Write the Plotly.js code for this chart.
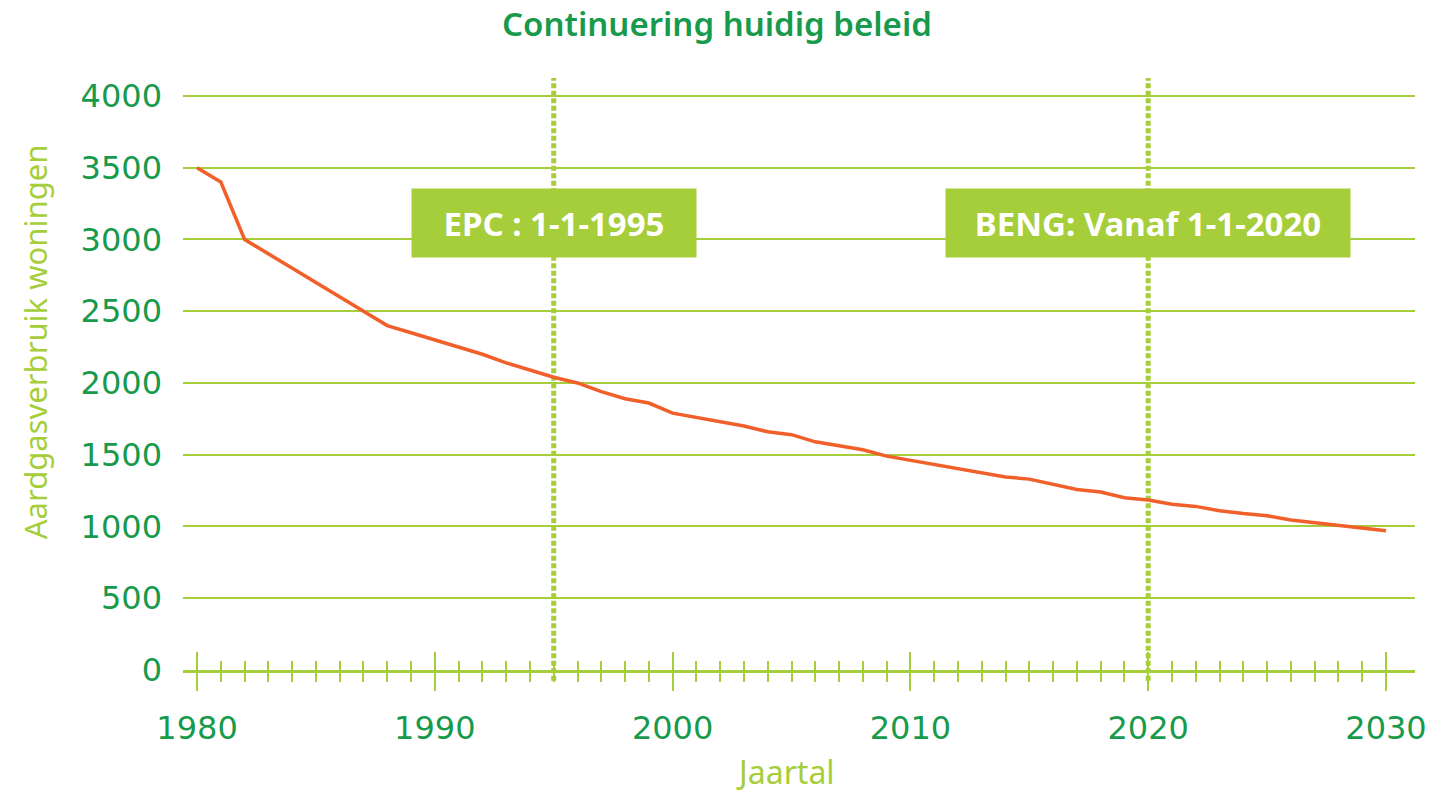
<!DOCTYPE html>
<html>
<head>
<meta charset="utf-8">
<script src="https://cdn.plot.ly/plotly-3.0.1.min.js"></script>
<style>html,body{margin:0;padding:0;background:#fff;}#chart{width:1434px;height:799px;}</style>
</head>
<body>
<div id="chart"></div>
<script>
const years = [1980,1981,1982,1983,1984,1985,1986,1987,1988,1989,1990,1991,1992,1993,1994,1995,1996,1997,1998,1999,2000,2001,2002,2003,2004,2005,2006,2007,2008,2009,2010,2011,2012,2013,2014,2015,2016,2017,2018,2019,2020,2021,2022,2023,2024,2025,2026,2027,2028,2029,2030];
const gasUse = [3500,3400,3000,2900,2800,2700,2600,2500,2400,2350,2300,2250,2200,2140,2090,2040,2000,1940,1890,1860,1790,1760,1725,1700,1660,1640,1590,1560,1535,1490,1460,1430,1400,1370,1345,1330,1295,1258,1240,1200,1185,1155,1140,1110,1090,1075,1045,1025,1005,990,970];
const xTickVals = [1980,1990,2000,2010,2020,2030];
const yTickVals = [0,500,1000,1500,2000,2500,3000,3500,4000];
const policyYears = [1995,2020];
const policyLabels = ['EPC : 1-1-1995','BENG: Vanaf 1-1-2020'];
const chartTitle = 'Continuering huidig beleid';
const xTitle = 'Jaartal';
const yTitle = 'Aardgasverbruik woningen';

const LIGHT = '#a6cd3a';
const DARK = '#189a4c';
const ORANGE = '#f1602a';
const xRange = [1979.41, 2031.22];

const traces = [
  {x: years, y: gasUse, type: 'scatter', mode: 'lines', line: {color: ORANGE, width: 3.5}, hoverinfo: 'x+y', showlegend: false},
  {x: years, y: gasUse, xaxis: 'x2', type: 'scatter', mode: 'lines', line: {width: 0}, opacity: 0, hoverinfo: 'skip', showlegend: false}
];

const tickFont = {family: 'DejaVu Sans', size: 32, color: DARK};

const layout = {
  width: 1434, height: 799,
  margin: {l: 183, r: 19, t: 78, b: 129},
  paper_bgcolor: '#fff', plot_bgcolor: '#fff',
  title: {text: chartTitle, font: {family: 'Noto Sans', size: 33, color: DARK, weight: 600}, xref: 'container', x: 0.5, xanchor: 'center', yref: 'container', y: 0.97, yanchor: 'middle'},
  xaxis: {
    range: xRange, tickvals: xTickVals, ticks: 'outside', ticklen: 18, tickwidth: 2, tickcolor: LIGHT,
    minor: {tickmode: 'array', tickvals: years, ticks: 'outside', ticklen: 9, tickwidth: 2, tickcolor: LIGHT, showgrid: false},
    showgrid: false, zeroline: false, showline: true, linecolor: LIGHT, linewidth: 2.5,
    tickfont: tickFont, ticklabelstandoff: 10
  },
  xaxis2: {
    range: xRange, tickvals: xTickVals, overlaying: 'x', anchor: 'y', side: 'bottom',
    ticks: 'inside', ticklen: 18, tickwidth: 2, tickcolor: LIGHT,
    minor: {tickmode: 'array', tickvals: years, ticks: 'inside', ticklen: 9, tickwidth: 2, tickcolor: LIGHT, showgrid: false},
    showticklabels: false, showgrid: false, zeroline: false, showline: false
  },
  yaxis: {
    range: [0, 4125], tickvals: yTickVals, showgrid: true, gridcolor: LIGHT, gridwidth: 2,
    zeroline: false, showline: false, ticks: '', tickfont: tickFont, ticklabelstandoff: 20
  },
  shapes: policyYears.map(yr => ({
    type: 'line', xref: 'x', yref: 'paper', x0: yr, x1: yr, y0: -0.018, y1: 1,
    line: {color: LIGHT, width: 5, dash: '5px,2.5px'}, layer: 'below'
  })),
  annotations: policyYears.map((yr, i) => ({
    x: yr, y: 3115, xref: 'x', yref: 'y', xanchor: 'center', yanchor: 'middle',
    text: '<b>' + policyLabels[i] + '</b>', showarrow: false,
    font: {family: 'Noto Sans', size: 33, color: '#fff'},
    bgcolor: LIGHT, borderpad: 7, width: i === 0 ? 270 : 390, height: 54
  })).concat([
    {text: xTitle, xref: 'paper', yref: 'paper', x: 0.489, y: -0.172, xanchor: 'center', yanchor: 'middle', showarrow: false,
     font: {family: 'Noto Sans', size: 32, color: LIGHT}},
    {text: yTitle, xref: 'paper', yref: 'paper', x: -0.120, y: 0.554, xanchor: 'center', yanchor: 'middle', showarrow: false, textangle: -90,
     font: {family: 'Noto Sans', size: 31, color: LIGHT}}
  ]),
  showlegend: false
};

Plotly.newPlot('chart', traces, layout, {displayModeBar: false, staticPlot: true});
</script>
</body>
</html>
